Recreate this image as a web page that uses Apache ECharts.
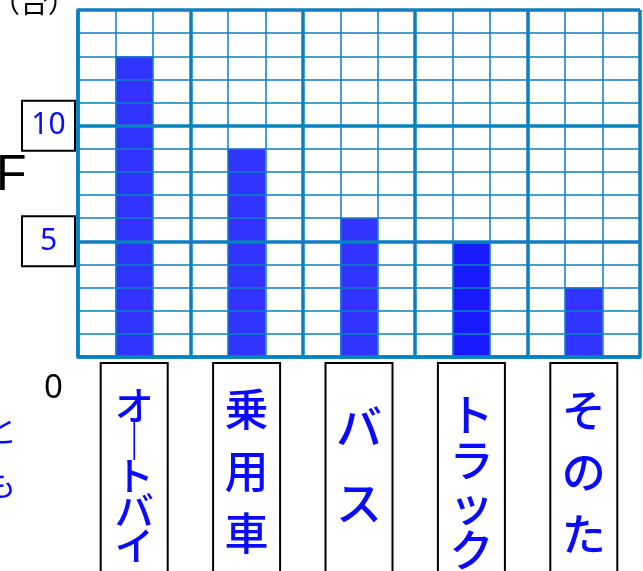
<!DOCTYPE html>
<html><head><meta charset="utf-8">
<script src="https://cdn.jsdelivr.net/npm/echarts@6/dist/echarts.min.js"></script>
<style>html,body{margin:0;padding:0;background:#fff}#c{width:643px;height:571px}</style>
</head><body><div id="c"></div>
<script>
const categories = ['オートバイ', '乗用車', 'バス', 'トラック', 'そのた'];
const values = [13, 9, 6, 5, 3];
const barColors = ['#3333ff', '#3333ff', '#3333ff', '#1a1aff', '#3333ff'];
const yTickLabels = ['0', '5', '10'];
const unitLabel = '（台）';

const GRID = '#0b80c0';
const FONT = 'Noto Sans CJK JP';
const TXT = '#0a0aff';

const styleKeys = ['a', 'b', 'c', 'd', 'e'];
const rich = {
  a: { fontSize: 39, lineHeight: 35, color: TXT, fontFamily: FONT, fontWeight: 500 },
  b: { fontSize: 44, lineHeight: 62, color: TXT, fontFamily: FONT, fontWeight: 500 },
  c: { fontSize: 46, lineHeight: 76, color: TXT, fontFamily: FONT, fontWeight: 500 },
  d: { fontSize: 44, lineHeight: 45, color: TXT, fontFamily: FONT, fontWeight: 500 },
  e: { fontSize: 44, lineHeight: 62, color: TXT, fontFamily: FONT, fontWeight: 500 },
  sa: { fontSize: 1, lineHeight: 25 },
  sb: { fontSize: 1, lineHeight: 15 },
  sc: { fontSize: 1, lineHeight: 26 },
  sd: { fontSize: 1, lineHeight: 30 },
  se: { fontSize: 1, lineHeight: 16 }
};

const chart = echarts.init(document.getElementById('c'));
chart.setOption({
  animation: false,
  backgroundColor: '#fff',
  grid: { left: 78, right: 3, top: 10, bottom: 214, containLabel: false, outerBoundsMode: 'none' },
  xAxis: [
    {
      type: 'category',
      data: categories,
      axisLine: { show: false },
      axisTick: { show: false },
      splitLine: { show: false },
      axisLabel: {
        interval: 0,
        margin: 6,
        width: 67,
        height: 240,
        padding: 0,
        borderColor: '#000',
        borderWidth: 2,
        align: 'center',
        verticalAlign: 'top',
        formatter: function (v, idx) {
          const k = styleKeys[idx];
          const chars = v.split('').map(c => c === 'ー' ? '｜' : c);
          return '{s' + k + '| }\n' + chars.map(c => '{' + k + '|' + c + '}').join('\n');
        },
        rich: rich
      }
    },
    {
      type: 'value',
      min: 0, max: 15, interval: 3,
      position: 'bottom',
      z: 5,
      axisLine: { show: true, onZero: false, lineStyle: { color: GRID, width: 3.5 } },
      axisTick: { show: false },
      axisLabel: { show: false },
      minorTick: { show: false, splitNumber: 3 },
      splitLine: { show: true, lineStyle: { color: GRID, width: 3.5 } },
      minorSplitLine: { show: true, lineStyle: { color: GRID, width: 1.5 } }
    }
  ],
  yAxis: {
    type: 'value',
    min: 0, max: 15, interval: 5,
    z: 5,
    name: unitLabel,
    nameLocation: 'end',
    nameGap: 8,
    nameTextStyle: { fontSize: 28, color: '#000', fontFamily: FONT, align: 'right', verticalAlign: 'middle', padding: [0, 2, 0, 0] },
    axisLine: { show: true, lineStyle: { color: GRID, width: 3.5 } },
    axisTick: { show: false },
    minorTick: { show: false, splitNumber: 5 },
    splitLine: { show: true, lineStyle: { color: GRID, width: 3.5 } },
    minorSplitLine: { show: true, lineStyle: { color: GRID, width: 1.5 } },
    axisLabel: {
      margin: 3,
      formatter: function (v) {
        const s = String(v);
        if (yTickLabels.indexOf(s) < 0) return '';
        return v === 0 ? '{z|' + s + '}' : '{bx|' + s + '}';
      },
      rich: {
        bx: { width: 53, height: 50, lineHeight: 50, borderColor: '#000', borderWidth: 2, align: 'center', fontSize: 30, color: TXT, fontFamily: 'Noto Sans' },
        z: { fontSize: 33, color: '#000', fontFamily: 'Noto Sans', padding: [64, 12, 0, 0] }
      }
    }
  },
  graphic: [
    { type: 'text', left: -4, top: 151, style: { text: 'F', fontSize: 50, fill: '#000', fontFamily: 'Liberation Sans' } },
    { type: 'text', left: -15, top: 414, style: { text: 'と', fontSize: 32, fill: TXT, fontFamily: FONT } },
    { type: 'text', left: -16, top: 468, style: { text: 'も', fontSize: 32, fill: TXT, fontFamily: FONT } }
  ],
  series: [{
    type: 'bar',
    xAxisIndex: 0,
    barWidth: '33.33%',
    data: values.map((v, i) => ({ value: v, itemStyle: { color: barColors[i] } }))
  }]
});
</script></body></html>
